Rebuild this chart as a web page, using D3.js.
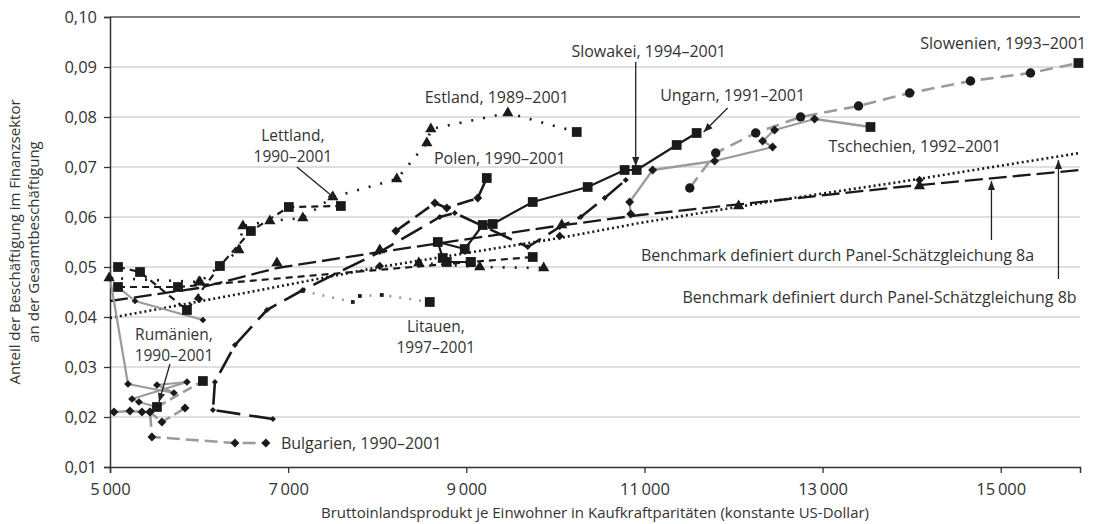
<!DOCTYPE html>
<html>
<head>
<meta charset="utf-8">
<style>
  body { margin: 0; background: #fff; }
  svg text { font-family: "Open Sans", sans-serif; fill: #333; }
  .tick text { font-size: 16.5px; }
  .lbl { font-size: 16px; }
  .lbl2 { font-size: 15.5px; }
  .axtitle { font-size: 15px; }
</style>
<script src="https://cdn.jsdelivr.net/npm/d3@7"></script>
</head>
<body>
<svg width="1093" height="524"></svg>
<script>
// [BIP je Einwohner, Anteil Finanzsektor]
const slowenien = [[11509, .0658], [11800, .0728], [12249, .0768], [12753, .0800], [13404, .0822],
                   [13977, .0848], [14661, .0872], [15334, .0888], [15872, .0908]];
const tschechien = [[10846, .0606], [10834, .0630], [11092, .0694], [11788, .0712], [12439, .0740],
                    [12327, .0752], [12461, .0774], [12910, .0796], [13538, .0780]];
const ungarn = [[9050, .0510], [8781, .0510], [8736, .0518], [8680, .0550], [8983, .0536], [9185, .0584],
                [9297, .0586], [9746, .0630], [10363, .0660], [10778, .0694], [10913, .0694],
                [11362, .0744], [11586, .0768]];
const estland = [[4990, .0478], [6010, .0470], [6447, .0534], [6492, .0582], [6795, .0592], [7165, .0598],
                 [7502, .0640], [8220, .0676], [8557, .0748], [8602, .0776], [9466, .0808], [10240, .0770]];
const lettland = [[5090, .0500], [5337, .0490], [5864, .0414], [6234, .0502], [6582, .0572],
                  [7008, .0620], [7592, .0622]];
const litauen = [[7165, .0452], [7726, .0430], [7805, .0442], [8052, .0444], [8590, .0430]];
const polen = [[8209, .0572], [8647, .0628], [8781, .0618], [9129, .0638], [9230, .0678]];
const slowakei = [[6829, .0196], [6156, .0214], [6178, .0270], [6403, .0344], [6762, .0414], [7165, .0454],
                  [8029, .0530], [8703, .0600], [8871, .0608], [9690, .0540], [10049, .0580],
                  [10285, .0600], [10554, .0638], [10790, .0674]];
const rumaenien = [[5000, .0478], [5202, .0266], [5718, .0248], [5527, .0264], [5864, .0270],
                   [5247, .0236], [5325, .0230], [5527, .0220]];
const rumaenien2 = [[5527, .0220], [6043, .0272]];
const bulgarien = [[5045, .0210], [5224, .0212], [5359, .0210], [5449, .0210], [5471, .0160],
                   [6403, .0148], [6750, .0148]];
const bulgarien2 = [[5449, .0210], [5583, .0190], [5842, .0218]];
const grauLinie = [[5090, .0460], [5281, .0432], [6043, .0394]];
const strichReihe = [[5090, .0460], [5763, .0460], [9050, .0510], [9746, .0520]];
const punktReihe = [[8467, .0508], [9151, .0500], [9869, .0498]];

const bench8a = [[5000, .0432], [5999, .0458], [6874, .0498], [8029, .0530], [9937, .0580],
                 [10947, .0604], [12517, .0634], [13864, .0660], [15887, .0694]];
const bench8b = [[5000, .0398], [6571, .0450], [8029, .0500], [10049, .0558], [10947, .0588],
                 [12517, .0634], [13864, .0670], [15887, .0728]];
const bench8aPunkte = [[5999, .0470], [6874, .0508], [8029, .0534], [10072, .0584], [12057, .0622], [14088, .0662]];
const bench8bPunkte = [[5999, .0436], [8029, .0502], [10049, .0562], [14088, .0674]];

const xTicks = [5000, 7000, 9000, 11000, 13000, 15000];
const yTicks = [0.01, 0.02, 0.03, 0.04, 0.05, 0.06, 0.07, 0.08, 0.09, 0.10];

const svg = d3.select("svg");
const grey = "#9b9b9b", black = "#1a1a1a";

const x = d3.scaleLinear().domain([5000, 15890]).range([110, 1080]);
const y = d3.scaleLinear().domain([0.01, 0.10]).range([467, 17]);

const de = d3.formatLocale({decimal: ",", thousands: "\u2009", grouping: [3], currency: ["", " €"]});

// gridlines
svg.append("g").selectAll("line")
    .data(yTicks.filter(d => d > 0.015 && d < 0.095))
    .join("line")
    .attr("x1", 110).attr("x2", 1080)
    .attr("y1", d => y(d)).attr("y2", d => y(d))
    .attr("stroke", "#d4d4d4").attr("stroke-width", 1.3);

svg.append("line")
    .attr("x1", 110).attr("x2", 1080).attr("y1", y(0.10)).attr("y2", y(0.10))
    .attr("stroke", "#555").attr("stroke-width", 1.5);

const xAxis = svg.append("g").attr("transform", "translate(0,467)")
    .call(d3.axisBottom(x).tickValues(xTicks).tickSizeOuter(0).tickSize(6).tickPadding(10)
        .tickFormat(de.format(",.0f")));
const yAxis = svg.append("g").attr("transform", "translate(110,0)")
    .call(d3.axisLeft(y).tickValues(yTicks).tickSizeOuter(0).tickSize(6).tickPadding(7)
        .tickFormat(de.format(".2f")));
[xAxis, yAxis].forEach(a => {
    a.select(".domain").attr("stroke", "#333").attr("stroke-width", 1.5);
    a.selectAll(".tick line").attr("stroke", "#333").attr("stroke-width", 1.3);
    a.selectAll(".tick text").attr("fill", "#333").style("font-family", "'Open Sans', sans-serif");
});

svg.append("text").attr("class", "axtitle")
    .attr("x", 595).attr("y", 518).attr("text-anchor", "middle")
    .text("Bruttoinlandsprodukt je Einwohner in Kaufkraftparitäten (konstante US-Dollar)");
const yt = svg.append("text").attr("class", "axtitle")
    .attr("transform", "translate(20,242) rotate(-90)").attr("text-anchor", "middle");
yt.append("tspan").attr("x", 0).attr("dy", 0).text("Anteil der Beschäftigung im Finanzsektor");
yt.append("tspan").attr("x", 0).attr("dy", 19).text("an der Gesamtbeschäftigung");

const line = d3.line().x(d => x(d[0])).y(d => y(d[1]));

const series = [
    {data: bench8a, color: black, width: 2.3, dash: "18,6"},
    {data: bench8b, color: black, width: 2.6, dash: "2,3"},
    {data: grauLinie, color: grey, width: 2.2, dash: null, marker: "diamond", size: 22},
    {data: bulgarien, color: grey, width: 2.6, dash: "13,6", marker: "diamond", size: 40},
    {data: bulgarien2, color: grey, width: 2.6, dash: "10,5", marker: "diamond", size: 40},
    {data: rumaenien, color: grey, width: 2.2, dash: null, marker: "diamond", size: 30},
    {data: rumaenien2, color: grey, width: 2.6, dash: "10,5", marker: "square", size: 95},
    {data: slowenien, color: grey, width: 2.6, dash: "13,7", marker: "circle", size: 70, end: "square"},
    {data: tschechien, color: grey, width: 2.3, dash: null, marker: "diamond", size: 40, end: "square"},
    {data: litauen, color: grey, width: 2.6, dash: "2,8", marker: "dash", size: 14, end: "square"},
    {data: slowakei, color: black, width: 2.6, dash: "24,9", marker: "diamond", size: 18},
    {data: polen, color: black, width: 2.6, dash: "17,7", marker: "diamond", size: 40, end: "square"},
    {data: strichReihe, color: black, width: 2.2, dash: "7,5", marker: "square", size: 95},
    {data: lettland, color: black, width: 2.2, dash: "7,5", marker: "square", size: 95},
    {data: punktReihe, color: black, width: 2.6, dash: "2,10", marker: "triangle", size: 55},
    {data: estland, color: black, width: 2.6, dash: "2,10", marker: "triangle", size: 55, end: "square"},
    {data: ungarn, color: black, width: 2.2, dash: null, marker: "square", size: 95}
];

const symbols = {
    square: d3.symbolSquare, diamond: d3.symbolSquare, circle: d3.symbolCircle,
    triangle: d3.symbolTriangle, dash: d3.symbolSquare
};

function drawMarker(g, type, size, p) {
    const rot = type === "diamond" ? 45 : 0;
    g.append("path")
        .attr("d", d3.symbol(symbols[type], size)())
        .attr("transform", `translate(${x(p[0])},${y(p[1])}) rotate(${rot})`)
        .attr("fill", black);
}

series.forEach(s => {
    const g = svg.append("g");
    g.append("path").attr("d", line(s.data))
        .attr("fill", "none").attr("stroke", s.color).attr("stroke-width", s.width)
        .attr("stroke-dasharray", s.dash).attr("stroke-linejoin", "round");
    if (!s.marker) return;
    s.data.forEach((p, i) => {
        const last = i === s.data.length - 1 && s.end;
        drawMarker(g, last ? s.end : s.marker, last ? 95 : s.size, p);
    });
});

bench8aPunkte.forEach(p => drawMarker(svg, "triangle", 55, p));
bench8bPunkte.forEach(p => drawMarker(svg, "diamond", 35, p));

// annotations
svg.append("defs").append("marker")
    .attr("id", "arr").attr("viewBox", "0 0 10 10").attr("refX", 10).attr("refY", 5)
    .attr("markerWidth", 9).attr("markerHeight", 9).attr("markerUnits", "userSpaceOnUse")
    .attr("orient", "auto")
    .append("path").attr("d", "M0,1 L10,5 L0,9 Z").attr("fill", "#222");

const labels = [
    {t: ["Slowenien, 1993–2001"], p: [15960, .0936], a: "end"},
    {t: ["Tschechien, 1992–2001"], p: [13067, .0730], a: "start"},
    {t: ["Slowakei, 1994–2001"], p: [11048, .0920], a: "middle"},
    {t: ["Ungarn, 1991–2001"], p: [11990, .0832], a: "middle"},
    {t: ["Estland, 1989–2001"], p: [9342, .0828], a: "middle"},
    {t: ["Polen, 1990–2001"], p: [9376, .0706], a: "middle"},
    {t: ["Lettland,", "1990–2001"], p: [7053, .0752], a: "middle"},
    {t: ["Litauen,", "1997–2001"], p: [8658, .0370], a: "middle"},
    {t: ["Rumänien,", "1990–2001"], p: [5718, .0354], a: "middle"},
    {t: ["Bulgarien, 1990–2001"], p: [6919, .0136], a: "start"},
    {t: ["Benchmark definiert durch Panel-Schätzgleichung 8a"], p: [13168, .0512], a: "middle"},
    {t: ["Benchmark definiert durch Panel-Schätzgleichung 8b"], p: [13640, .0428], a: "middle"}
];
const arrows = [
    [[10902, .0910], [10902, .0702]],
    [[11934, .0818], [11665, .0770]],
    [[7098, .0700], [7547, .0634]],
    [[5673, .0306], [5550, .0230]],
    [[14896, .0554], [14896, .0672]],
    [[15648, .0476], [15648, .0714]]
];

labels.forEach(l => {
    l.t.forEach((s, i) => svg.append("text")
        .attr("class", l.t.length > 1 ? "lbl2" : "lbl").attr("text-anchor", l.a)
        .attr("x", x(l.p[0])).attr("y", y(l.p[1]) + i * 21)
        .text(s));
});
svg.append("g").selectAll("line").data(arrows).join("line")
    .attr("x1", d => x(d[0][0])).attr("y1", d => y(d[0][1]))
    .attr("x2", d => x(d[1][0])).attr("y2", d => y(d[1][1]))
    .attr("stroke", "#222").attr("stroke-width", 1.3).attr("marker-end", "url(#arr)");
</script>
</body>
</html>
